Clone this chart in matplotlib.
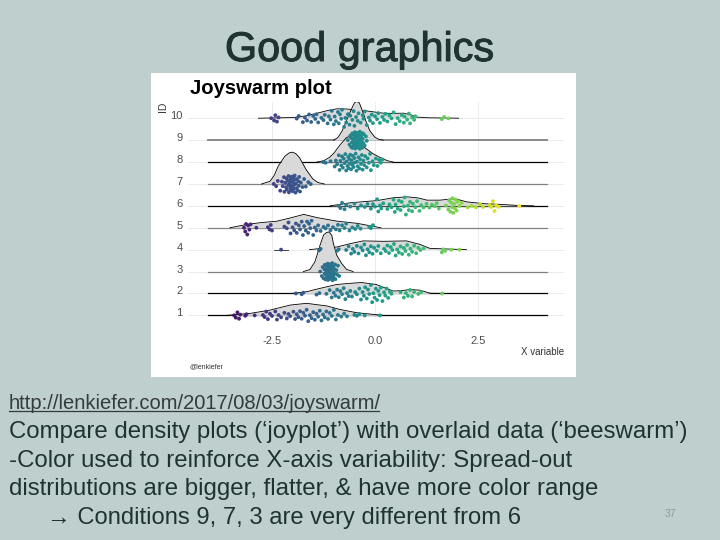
import numpy as np
import matplotlib
matplotlib.use("Agg")
import matplotlib.pyplot as plt
import matplotlib.patheffects as pe
from matplotlib.lines import Line2D
from matplotlib.transforms import ScaledTranslation

plt.rcParams['font.family'] = ['Liberation Sans', 'DejaVu Sans']

# 行ラベル
ids = [10, 9, 8, 7, 6, 5, 4, 3, 2, 1]
x_ticks = [-2.5, 0.0, 2.5]
x_tick_labels = ['-2.5', '0.0', '2.5']

# 密度曲線 (x, 高さ)
dens_x = {
    10: [-2.83, -1.98, -1.7, -1.4, -1.15, -0.92, -0.7, -0.45, -0.27, 0.0, 0.2, 0.45, 0.69, 0.88, 1.02, 1.3, 2.03],
    9: [-1.0, -0.9, -0.8, -0.7, -0.6, -0.5, -0.44, -0.38, -0.3, -0.2, -0.12, 0.0, 0.1, 0.2],
    8: [-1.41, -1.25, -1.1, -1.0, -0.85, -0.69, -0.63, -0.5, -0.28, -0.05, 0.12, 0.3, 0.44],
    7: [-2.75, -2.55, -2.45, -2.35, -2.19, -2.08, -2.0, -1.92, -1.83, -1.67, -1.51, -1.38, -1.23],
    6: [-1.09, -0.6, 0.05, 0.45, 0.78, 1.05, 1.26, 1.58, 1.87, 2.05, 2.23, 2.63, 3.1, 3.45, 3.85],
    5: [-3.52, -3.11, -2.79, -2.38, -2.05, -1.73, -1.4, -0.92, -0.43, 0.14],
    4: [-1.59, -1.34, -0.93, -0.61, -0.29, 0.2, 0.76, 1.09, 1.33, 1.6, 2.22],
    3: [-1.74, -1.58, -1.46, -1.39, -1.335, -1.25, -1.18, -1.116, -1.05, -1.01, -0.93, -0.81, -0.69, -0.53],
    2: [-2.02, -1.66, -1.34, -0.93, -0.62, -0.33, 0.03, 0.25, 0.44, 0.65, 0.85, 1.09, 1.34, 1.7],
    1: [-3.6, -3.03, -2.55, -2.06, -1.66, -1.17, -0.85, -0.44, 0.2],
}
dens_h = {
    10: [0, 0.03, 0.1, 0.23, 0.35, 0.43, 0.42, 0.38, 0.35, 0.28, 0.23, 0.22, 0.23, 0.15, 0.05, 0.02, 0],
    9: [0, 0.12, 0.41, 0.85, 1.3, 1.7, 1.77, 1.7, 1.3, 0.75, 0.41, 0.13, 0.03, 0],
    8: [0, 0.05, 0.22, 0.4, 0.78, 1.12, 1.16, 1.0, 0.7, 0.38, 0.21, 0.06, 0],
    7: [0, 0.12, 0.38, 0.81, 1.26, 1.42, 1.45, 1.38, 1.19, 0.65, 0.23, 0.06, 0],
    6: [0, 0.14, 0.24, 0.37, 0.41, 0.36, 0.26, 0.26, 0.32, 0.27, 0.18, 0.1, 0.06, 0.02, 0],
    5: [0, 0.15, 0.23, 0.3, 0.45, 0.61, 0.46, 0.3, 0.2, 0],
    4: [0, 0.05, 0.12, 0.27, 0.4, 0.38, 0.4, 0.24, 0.06, 0.04, 0],
    3: [0, 0.09, 0.44, 0.85, 1.2, 1.66, 1.78, 1.81, 1.66, 1.28, 0.75, 0.37, 0.1, 0],
    2: [0, 0.08, 0.23, 0.41, 0.46, 0.5, 0.41, 0.25, 0.11, 0.13, 0.18, 0.15, 0.01, 0],
    1: [0, 0.09, 0.24, 0.47, 0.55, 0.43, 0.27, 0.12, 0],
}
row4_stub = [-2.44, -2.12]

# ビースウォームの点 (x)
swarm = {
    10: [-2.52, -2.45, -2.42, -2.38, -2.34, -1.9, -1.85, -1.75, -1.7, -1.65, -1.6, -1.55, -1.5, -1.45, -1.42,
         -1.38, -1.3, -1.25, -1.22, -1.15, -1.12, -1.08, -1.05, -1.0, -0.98, -0.95, -0.9, -0.88, -0.85, -0.82,
         -0.8, -0.75, -0.72, -0.7, -0.66, -0.62, -0.6, -0.55, -0.52, -0.5, -0.46, -0.42, -0.4, -0.35, -0.3,
         -0.28, -0.25, -0.2, -0.15, -0.12, -0.08, -0.05, 0.0, 0.05, 0.08, 0.12, 0.18, 0.22, 0.25, 0.3, 0.35,
         0.4, 0.45, 0.5, 0.55, 0.6, 0.65, 0.7, 0.72, 0.78, 0.82, 0.85, 0.9, 0.95, 0.98, 1.62, 1.68, 1.78],
    9: [-0.66, -0.62, -0.6, -0.58, -0.56, -0.55, -0.54, -0.52, -0.51, -0.5, -0.49, -0.48, -0.47, -0.46, -0.45,
        -0.45, -0.44, -0.43, -0.42, -0.41, -0.4, -0.39, -0.38, -0.37, -0.36, -0.35, -0.34, -0.33, -0.32, -0.31,
        -0.3, -0.28, -0.27, -0.25, -0.22, -0.2, -0.58, -0.55, -0.52, -0.49, -0.46, -0.43, -0.4, -0.37, -0.34, -0.31],
    8: [-1.26, -1.2, -1.08, -0.98, -0.95, -0.92, -0.88, -0.86, -0.84, -0.82, -0.8, -0.78, -0.76, -0.74, -0.72,
        -0.7, -0.69, -0.67, -0.65, -0.64, -0.62, -0.61, -0.6, -0.58, -0.57, -0.55, -0.54, -0.52, -0.5, -0.49,
        -0.47, -0.45, -0.44, -0.42, -0.4, -0.38, -0.36, -0.34, -0.32, -0.3, -0.28, -0.26, -0.24, -0.2, -0.18,
        -0.15, -0.12, -0.1, -0.06, -0.03, 0.02, 0.06, 0.1, 0.14, 0.18],
    7: [-2.46, -2.4, -2.36, -2.3, -2.26, -2.24, -2.21, -2.18, -2.16, -2.14, -2.12, -2.1, -2.09, -2.08, -2.06,
        -2.05, -2.04, -2.03, -2.02, -2.0, -1.99, -1.98, -1.97, -1.96, -1.95, -1.93, -1.92, -1.9, -1.88, -1.86,
        -1.84, -1.82, -1.8, -1.76, -1.72, -1.68, -1.62, -1.56, -2.2, -2.15, -2.1, -2.05, -2.0, -1.95, -1.9, -1.85],
    6: [-0.88, -0.84, -0.8, -0.74, -0.7, -0.6, -0.5, -0.42, -0.34, -0.25, -0.18, -0.1, -0.05, 0.0, 0.05, 0.08,
        0.12, 0.15, 0.2, 0.3, 0.35, 0.4, 0.45, 0.48, 0.5, 0.55, 0.58, 0.62, 0.65, 0.7, 0.72, 0.75, 0.8, 0.82,
        0.85, 0.9, 0.92, 0.98, 1.02, 1.08, 1.12, 1.18, 1.25, 1.32, 1.38, 1.45, 1.5, 1.55, 1.72, 1.78, 1.8, 1.83,
        1.85, 1.87, 1.88, 1.9, 1.92, 1.94, 1.96, 1.98, 2.0, 2.05, 2.1, 2.25, 2.35, 2.45, 2.55, 2.62, 2.78, 2.82,
        2.86, 2.9, 2.94, 3.0, 3.5],
    5: [-3.18, -3.15, -3.13, -3.1, -3.08, -3.05, -3.02, -2.88, -2.6, -2.56, -2.53, -2.5, -2.2, -2.14, -2.1,
        -2.05, -2.0, -1.96, -1.92, -1.9, -1.85, -1.82, -1.78, -1.75, -1.72, -1.68, -1.65, -1.62, -1.6, -1.57,
        -1.54, -1.5, -1.46, -1.42, -1.38, -1.32, -1.25, -1.2, -1.14, -1.08, -1.02, -0.95, -0.9, -0.86, -0.8,
        -0.74, -0.7, -0.62, -0.55, -0.48, -0.42, -0.35, -0.14, -0.1, -0.05],
    4: [-2.28, -1.36, -1.32, -0.92, -0.88, -0.7, -0.64, -0.58, -0.54, -0.5, -0.44, -0.4, -0.34, -0.3, -0.26,
        -0.22, -0.18, -0.14, -0.1, -0.06, -0.02, 0.04, 0.08, 0.14, 0.22, 0.26, 0.3, 0.34, 0.38, 0.42, 0.46, 0.5,
        0.54, 0.58, 0.62, 0.66, 0.7, 0.74, 0.78, 0.82, 0.86, 0.9, 0.95, 1.0, 1.05, 1.1, 1.18, 1.62, 1.66, 1.7,
        1.85, 2.05],
    3: [-1.33, -1.29, -1.27, -1.25, -1.23, -1.22, -1.2, -1.19, -1.18, -1.17, -1.16, -1.15, -1.14, -1.13, -1.12,
        -1.11, -1.11, -1.1, -1.09, -1.08, -1.07, -1.06, -1.05, -1.04, -1.03, -1.02, -1.01, -1.0, -0.99, -0.97,
        -0.96, -0.94, -0.92, -0.9, -0.87, -1.22, -1.19, -1.16, -1.13, -1.1, -1.07, -1.04, -1.01, -0.98],
    2: [-1.92, -1.78, -1.74, -1.42, -1.35, -1.18, -1.1, -1.05, -1.0, -0.96, -0.92, -0.88, -0.84, -0.8, -0.76,
        -0.72, -0.68, -0.64, -0.6, -0.56, -0.48, -0.44, -0.38, -0.34, -0.3, -0.27, -0.24, -0.2, -0.17, -0.14,
        -0.1, -0.07, -0.04, -0.01, 0.02, 0.05, 0.08, 0.11, 0.14, 0.18, 0.22, 0.25, 0.28, 0.32, 0.36, 0.4, 0.62,
        0.7, 0.75, 0.8, 0.85, 0.9, 0.95, 1.05, 1.12, 1.63],
    1: [-3.42, -3.38, -3.34, -3.3, -3.27, -3.15, -3.12, -2.92, -2.72, -2.68, -2.64, -2.6, -2.55, -2.5, -2.42,
        -2.38, -2.34, -2.28, -2.2, -2.14, -2.1, -2.06, -1.98, -1.94, -1.9, -1.86, -1.82, -1.78, -1.74, -1.7,
        -1.66, -1.62, -1.58, -1.54, -1.5, -1.46, -1.42, -1.38, -1.34, -1.3, -1.26, -1.22, -1.18, -1.14, -1.1,
        -1.05, -1.0, -0.95, -0.9, -0.82, -0.75, -0.68, -0.5, -0.44, -0.38, -0.25, 0.12],
}

body_lines = [
    "Compare density plots (‘joyplot’) with overlaid data (‘beeswarm’)",
    "-Color used to reinforce X-axis variability: Spread-out",
    "distributions are bigger, flatter, & have more color range",
]
arrow_line = "→ Conditions 9, 7, 3 are very different from 6"
url_text = "http://lenkiefer.com/2017/08/03/joyswarm/"

W, H = 720, 540
BG = '#bfcfce'
TXT = '#1f3333'


def fx(p):
    return p / W


def fy(p):
    return 1 - p / H


# 準乱数(van der Corput)で点の上下位置を決める
def vdc(n):
    r, f = 0.0, 0.5
    while n > 0:
        r += f * (n % 2)
        n //= 2
        f /= 2
    return r


fig = plt.figure(figsize=(7.2, 5.4), dpi=100, facecolor=BG)

# 白いパネル
panel = fig.add_axes([fx(151), fy(377), 425 / W, 304 / H], facecolor='white')
panel.set_xticks([])
panel.set_yticks([])
for s in panel.spines.values():
    s.set_visible(False)

ax = fig.add_axes([fx(188), fy(318), 376 / W, 216 / H], facecolor='none')
ax.set_xlim(-4.539, 4.587)
ax.set_ylim(0.88, 10.74)
for s in ax.spines.values():
    s.set_visible(False)
ax.set_xticks(x_ticks)
ax.set_xticklabels(x_tick_labels)
ax.set_yticks(ids)
ax.set_yticklabels([str(i) for i in ids])
ax.tick_params(length=0, labelsize=8, labelcolor='#4d4d4d')
ax.tick_params(axis='x', pad=13)
ax.tick_params(axis='y', pad=4)
ax.grid(True, color='#ebebeb', lw=0.7)
ax.set_axisbelow(True)
shift = ScaledTranslation(0, 3 / 100, fig.dpi_scale_trans)
for lab in ax.get_yticklabels():
    lab.set_transform(lab.get_transform() + shift)

# 基線
base_gray = [9, 7, 5, 3]
for i in ids[1:]:
    if i == 4:
        continue
    c = '#808080' if i in base_gray else 'black'
    ax.plot([-4.05, 4.17], [i, i], color=c, lw=1.3 if i == 9 else 0.9, zorder=2 + (10 - i) * 0.01)
ax.plot(row4_stub, [4, 4], color='#444444', lw=0.7, zorder=2)

# 密度 (上の行から順に重ねる)
for n, i in enumerate(ids):
    xs = np.array(dens_x[i])
    ys = i + np.array(dens_h[i])
    z = 3 + n * 0.01
    ax.fill_between(xs, i, ys, color='#d9d9d9', lw=0, zorder=z)
    ax.plot(xs, ys, color='black', lw=0.6, zorder=z)

# スウォーム配置
fig.canvas.draw()
px_x = ax.transData.transform((1, 0))[0] - ax.transData.transform((0, 0))[0]
px_y = ax.transData.transform((0, 1))[1] - ax.transData.transform((0, 0))[1]
norm = plt.Normalize(-3.8, 3.3)
for i in ids:
    vals = np.array(sorted(swarm[i]))
    offs = []
    for k, v in enumerate(vals):
        near = np.sum(np.abs(vals - v) * px_x <= 4.5)
        env = min(9.0, 1.5 * (near - 1))
        offs.append((vdc(k + 1) - 0.5) * 2 * env)
    ax.scatter(vals, i + np.array(offs) / px_y, c=vals, cmap='viridis', norm=norm,
               s=7.5, linewidths=0, zorder=5, clip_on=False)

# グラフ内テキスト
fig.text(fx(190), fy(89), "Joyswarm plot", fontsize=14.6, fontweight='bold', color='black', va='center')
fig.text(fx(163), fy(107), "ID", fontsize=7.5, rotation=90, color='#333333', va='center', ha='center')
fig.text(fx(564), fy(352), "X variable", fontsize=7, color='#333333', va='center', ha='right')
fig.text(fx(190), fy(366.5), "@lenkiefer", fontsize=5, color='#333333', va='center')

# スライドのテキスト
title = fig.text(fx(359.5), fy(61), "Good graphics", fontsize=29.8, color=TXT, ha='center', va='baseline')
title.set_path_effects([pe.withStroke(linewidth=0.7, foreground=TXT)])
fig.text(fx(9), fy(409), url_text, fontsize=14.5, color='#333b3b', va='baseline')
fig.add_artist(Line2D([fx(9), fx(379)], [fy(411), fy(411)], color='#333b3b', lw=0.9))
for t, yy in zip(body_lines, [438, 467, 495]):
    fig.text(fx(9), fy(yy), t, fontsize=17.25, color=TXT, va='baseline')
fig.text(fx(47), fy(524), arrow_line, fontsize=17.15, color=TXT, va='baseline')
fig.text(fx(670), fy(514), "37", fontsize=7.5, color='#8a9a9a', ha='center', va='center')

fig.savefig('out.png', dpi=100, facecolor=BG)
